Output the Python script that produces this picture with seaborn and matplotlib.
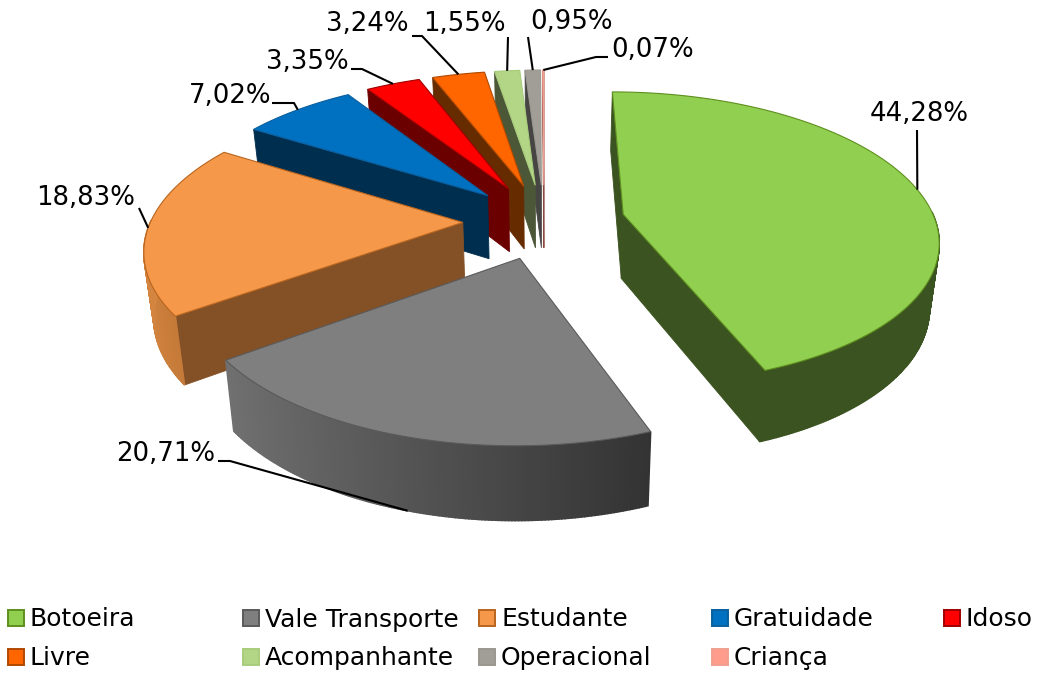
import numpy as np
import seaborn as sns
import matplotlib.pyplot as plt
from matplotlib.colors import to_rgb
from matplotlib.patches import Polygon, Rectangle

categorias = ["Botoeira", "Vale Transporte", "Estudante", "Gratuidade", "Idoso",
              "Livre", "Acompanhante", "Operacional", "Criança"]
valores = [44.28, 20.71, 18.83, 7.02, 3.35, 3.24, 1.55, 0.95, 0.07]
rotulos = ["44,28%", "20,71%", "18,83%", "7,02%", "3,35%", "3,24%", "1,55%", "0,95%", "0,07%"]

cores_topo = ["#90CF50", "#7F7F7F", "#F59849", "#0070C0", "#FF0000",
              "#FF6600", "#B2D586", "#A19E98", "#FF9C8C"]
cores_corte = ["#3B5320", "#353535", "#845127", "#002E4E", "#6B0000",
               "#672B00", "#4B5737", "#464543", "#8A4A40"]
# borda externa: cor na esquerda e na direita (gradiente)
borda_esq = ["#3B5320", "#707070", "#D58640", "#002E4E", "#6B0000",
             "#672B00", "#4B5737", "#464543", "#8A4A40"]
borda_dir = ["#3B5320", "#333333", "#C57A39", "#002E4E", "#6B0000",
             "#672B00", "#4B5737", "#464543", "#8A4A40"]
cores_linha = ["#5F8F1E", "#5A5A5A", "#B9651F", "#0B5F9E", "#A00000",
               "#B04A00", "#A8CC7C", "#9A978F", "#F0A090"]

# geometria da pizza 3D
CX, CY = 544, 221
RX, RY = 312, 144
EXPLODE = 0.26
PERSP = 0.16
ALTURA = 66
Q_BASE = 0.025

# posicao dos rotulos (x, y) e cotovelos das linhas de chamada
pos_rotulos = [(919.5, 114.5), (165.5, 453.5), (86, 198.5), (230.5, 96.5), (307, 61.5),
               (367, 23.5), (464, 23.5), (572, 22.5), (653, 49.5)]
cotovelos = [[(917, 130)], [(218, 461), (230, 461)], [(139, 208)], [(272, 103), (294, 103)],
             [(351, 69), (362, 69)], [(412, 36), (422, 36)], [(508, 37)], [(528, 37)],
             [(608, 57), (596, 57)]]

colunas_legenda = [8, 243, 479, 712, 944]
linhas_legenda = [618, 656.5]


def projetar(ang, raio, meio, z=0.0):
    # angulo em graus, horario a partir do topo; z=1 e a base da fatia
    x = EXPLODE * np.sin(np.radians(meio)) + raio * np.sin(np.radians(ang))
    d = -EXPLODE * np.cos(np.radians(meio)) - raio * np.cos(np.radians(ang))
    s = 1 / (1 - PERSP * d)
    k = 1 - Q_BASE * z
    return CX + RX * x * s * k, CY + (RY * d * s + ALTURA * s * z) * k


def area(pts):
    p = np.array(pts)
    return 0.5 * np.sum(p[:, 0] * np.roll(p[:, 1], -1) - np.roll(p[:, 0], -1) * p[:, 1])


sns.set_theme(style="white")
plt.rcParams["font.family"] = ["DejaVu Sans"]
fig, ax = plt.subplots(figsize=(10.43, 6.75), dpi=100)
ax.set_position([0, 0, 1, 1])
ax.set_xlim(0, 1043)
ax.set_ylim(675, 0)
ax.axis("off")

paleta = sns.color_palette(cores_topo)
limites = np.concatenate([[0], np.cumsum(valores)]) / np.sum(valores) * 360
meios = (limites[:-1] + limites[1:]) / 2
profund = -np.cos(np.radians(meios))

for i in np.argsort(profund):
    a0, a1, m = limites[i], limites[i + 1], meios[i]
    angs = np.linspace(a0, a1, max(int((a1 - a0) * 2), 4))
    zo = 2 + 3 * int(np.where(np.argsort(profund) == i)[0][0])

    # cortes radiais
    for a, sinal in ((a0, 1), (a1, -1)):
        quad = [projetar(a, 0, m), projetar(a, 1, m), projetar(a, 1, m, 1), projetar(a, 0, m, 1)]
        if area(quad) * sinal < 0:
            ax.add_patch(Polygon(quad, closed=True, fc=cores_corte[i], ec=cores_corte[i], lw=0.6, zorder=zo))

    # borda externa, em pedacos para o gradiente
    e, d = np.array(to_rgb(borda_esq[i])), np.array(to_rgb(borda_dir[i]))
    visiveis = [a for a in angs if np.cos(np.radians(a)) <= 0.02]
    if len(visiveis) >= 2:
        senos = np.sin(np.radians(visiveis))
        for b0, b1 in zip(visiveis[:-1], visiveis[1:]):
            t = (np.sin(np.radians((b0 + b1) / 2)) - senos.min()) / (senos.max() - senos.min())
            c = e + (d - e) * t
            quad = [projetar(b0, 1, m), projetar(b1, 1, m), projetar(b1, 1, m, 1), projetar(b0, 1, m, 1)]
            ax.add_patch(Polygon(quad, closed=True, fc=c, ec=c, lw=1.1, zorder=zo + 1))

    # topo
    topo = [projetar(a0, 0, m)] + [projetar(a, 1, m) for a in angs]
    ax.add_patch(Polygon(topo, closed=True, fc=paleta[i], ec=cores_linha[i], lw=0.8, zorder=zo + 2))

# linhas de chamada e rotulos
for i, rot in enumerate(rotulos):
    z = 1 if i == 1 else 0
    fim = projetar(meios[i], 1, meios[i], z)
    pts = np.array(cotovelos[i] + [fim])
    ax.plot(pts[:, 0], pts[:, 1], color="black", lw=1.5, zorder=60, solid_capstyle="butt")
    ax.text(pos_rotulos[i][0], pos_rotulos[i][1], rot, ha="center", va="center",
            fontsize=18.7, color="black", zorder=61)

# legenda
for i, cat in enumerate(categorias):
    x = colunas_legenda[i % 5]
    y = linhas_legenda[i // 5]
    ax.add_patch(Rectangle((x, y - 8), 16, 16, fc=paleta[i], ec=cores_linha[i], lw=1.4, zorder=5))
    ax.text(x + 22, y + 1.5, cat, ha="left", va="center", fontsize=18, color="black")

fig.savefig("out.png", dpi=100)
